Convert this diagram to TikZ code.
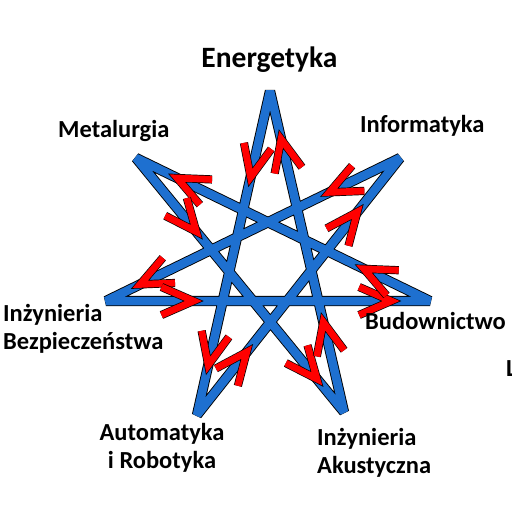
\documentclass[tikz,border=0pt]{standalone}
\usepackage{fontspec}
\setmainfont{Carlito}
\usetikzlibrary{decorations.markings}
\definecolor{starblue}{RGB}{30,112,208}
\definecolor{chevred}{RGB}{255,0,0}
\begin{document}
\begin{tikzpicture}[x=1pt,y=-1pt,
  starline/.style={draw=black,line width=0.9pt,double=starblue,double distance=8.5pt,line join=bevel},
  chev/.style={draw=black,line width=0.7pt,double=chevred,double distance=6.8pt,line join=miter,line cap=butt},
  arrowpair/.style 2 args={decoration={markings,
     mark=at position #1 with {\draw[chev] (-32,14) -- (0,0) -- (-32,-14);},
     mark=at position #2 with {\draw[chev] (-32,14) -- (0,0) -- (-32,-14);}},
     postaction=decorate},
  lab/.style={font=\bfseries\fontsize{24.5}{27.5}\selectfont, inner sep=0pt}
]
\useasboundingbox (0,0) rectangle (512,512);
\coordinate (T) at (270,91);
\coordinate (UR) at (400,158);
\coordinate (R) at (430,301);
\coordinate (LR) at (344,412);
\coordinate (LL) at (197,415);
\coordinate (L) at (106,301);
\coordinate (UL) at (136,158);
\draw[starline] (T) -- (LL) -- (UR) -- (L) -- (R) -- (UL) -- (LR) -- cycle;
\foreach \a/\b/\p/\q in {T/LL/0.266/0.846, LL/UR/0.245/0.79, UR/L/0.24/0.884,
    L/R/0.27/0.88, R/UL/0.225/0.86, UL/LR/0.29/0.87, LR/T/0.28/0.85}
  \path[arrowpair={\p}{\q}] (\a) -- (\b);
\node[lab,font=\bfseries\fontsize{29.5}{33}\selectfont,anchor=base] (en) at (269.5,67) {Energetyka};
\node[lab,anchor=base west] (me) at (58,137) {Metalurgia};
\node[lab,anchor=base west] (inf) at (360,132) {Informatyka};
\node[lab,anchor=base west,align=left] (ib) at (3,349) {Inżynieria\\Bezpieczeństwa};
\node[lab,anchor=base west] (bu) at (365,329) {Budownictwo};
\node[lab,anchor=base west] (ll) at (506,376) {L};
\node[lab,anchor=base,align=center] (ar) at (162,468) {Automatyka\\i Robotyka};
\node[lab,anchor=base west,align=left] (ia) at (317,473) {Inżynieria\\Akustyczna};
\end{tikzpicture}
\end{document}
